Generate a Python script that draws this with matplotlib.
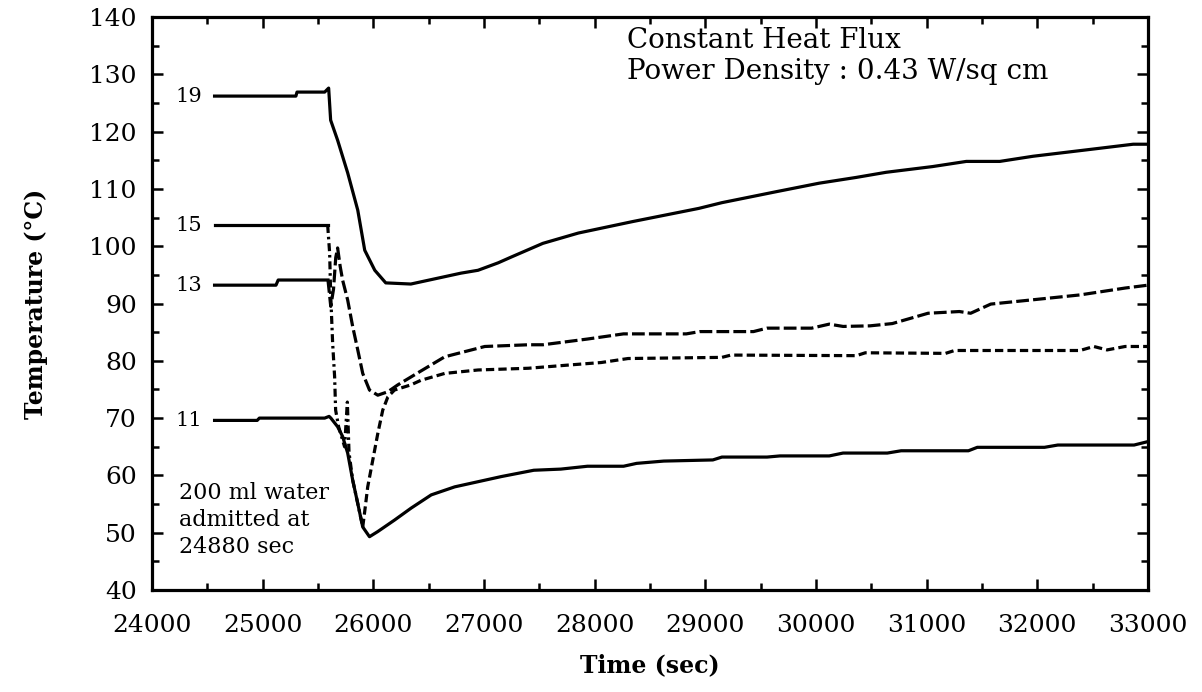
import matplotlib.pyplot as plt

plt.rcParams['font.family'] = ['DejaVu Serif']

# time break where water was admitted (curves change style after this)
t_break = 25590

# thermocouple 19 (solid)
t19 = [24565, 25300, 25310, 25560, 25596, 25614, 25677, 25768, 25859, 25922, 26013, 26112,
       26339, 26792, 26946, 27128, 27245, 27532, 27853, 28343, 28941, 29150, 29637, 30029,
       30362, 30634, 31054, 31359, 31661, 31962, 32265, 32567, 32867, 33000]
T19 = [126.2, 126.2, 126.9, 126.9, 127.6, 122.0, 118.5, 112.8, 106.3, 99.3, 95.8, 93.6,
       93.4, 95.3, 95.8, 97.1, 98.1, 100.5, 102.3, 104.3, 106.6, 107.6, 109.5, 111.0,
       112.0, 112.9, 113.9, 114.8, 114.8, 115.7, 116.4, 117.1, 117.8, 117.8]

# thermocouple 15
t15 = [24565, 25587, 25605, 25614, 25632, 25650, 25659, 25686, 25740, 25765, 25780, 25813,
       25859, 25904, 25920, 25949, 25995, 26040, 26085, 26131, 26191, 26339, 26430, 26645,
       26946, 27400, 27790, 28059, 28302, 29150, 29232, 30365, 30446, 31171, 31253, 32386,
       32511, 32631, 32794, 33000]
T15 = [103.7, 103.7, 98.8, 91.8, 83.1, 77.2, 71.4, 68.5, 65.0, 72.8, 64.0, 59.2,
       55.1, 51.0, 53.4, 58.0, 62.7, 67.3, 71.4, 73.7, 74.9, 75.8, 76.6, 77.8,
       78.4, 78.7, 79.3, 79.7, 80.4, 80.6, 81.0, 80.9, 81.4, 81.3, 81.8, 81.8,
       82.5, 81.9, 82.5, 82.5]

# thermocouple 13
t13 = [24565, 25120, 25140, 25590, 25615, 25640, 25660, 25677, 25700, 25722, 25768, 25813,
       25859, 25904, 25965, 26040, 26131, 26221, 26402, 26645, 27007, 27400, 27532, 27935,
       28261, 28828, 28950, 29435, 29558, 29961, 30120, 30245, 30487, 30690, 31013, 31296,
       31398, 31580, 31985, 32386, 32794, 33000]
T13 = [93.2, 93.2, 94.1, 94.1, 89.5, 92.5, 98.0, 99.7, 96.5, 94.1, 90.6, 86.0,
       81.9, 77.8, 74.9, 74.0, 74.6, 75.8, 77.9, 80.7, 82.5, 82.8, 82.8, 83.8,
       84.7, 84.7, 85.1, 85.1, 85.7, 85.7, 86.4, 86.0, 86.1, 86.5, 88.3, 88.6,
       88.3, 89.9, 90.7, 91.5, 92.7, 93.2]

# thermocouple 11 (solid)
t11 = [24565, 24950, 24970, 25560, 25600, 25616, 25677, 25722, 25768, 25813, 25859, 25904,
       25965, 26040, 26191, 26342, 26523, 26735, 26946, 27157, 27450, 27694, 27935, 28261,
       28379, 28624, 29068, 29150, 29558, 29675, 30120, 30245, 30645, 30770, 31378, 31458,
       32065, 32186, 32875, 33000]
T11 = [69.6, 69.6, 70.0, 70.0, 70.3, 70.0, 68.5, 66.8, 63.9, 59.2, 55.1, 51.0,
       49.3, 50.2, 52.2, 54.3, 56.6, 58.0, 58.9, 59.8, 60.9, 61.1, 61.6, 61.6,
       62.1, 62.5, 62.7, 63.2, 63.2, 63.4, 63.4, 63.9, 63.9, 64.3, 64.3, 64.9,
       64.9, 65.3, 65.3, 65.9]


def split(t, T, lo, hi):
    xs, ys = [], []
    for a, b in zip(t, T):
        if lo <= a <= hi:
            xs.append(a)
            ys.append(b)
    return xs, ys


fig = plt.figure(figsize=(12.02, 6.92), dpi=100)
ax = fig.add_axes([0.1265, 0.1474, 0.8285, 0.828])

lw = 2.3
ax.plot(t19, T19, color='black', lw=lw)
ax.plot(t11, T11, color='black', lw=lw)

x, y = split(t13, T13, 0, t_break)
ax.plot(x, y, color='black', lw=lw)
x, y = split(t13, T13, t_break, 40000)
ax.plot(x, y, color='black', lw=lw, dashes=(4, 1.3))

x, y = split(t15, T15, 0, 25587)
ax.plot(x, y, color='black', lw=lw)
x, y = split(t15, T15, 25587, 25904)
ax.plot(x, y, color='black', lw=lw, dashes=(2.5, 1.2, 0.8, 1.2))
x, y = split(t15, T15, 25904, 40000)
ax.plot(x, y, color='black', lw=lw, dashes=(2.6, 1.3))

# curve labels
for lab, yv in [('19', T19[0]), ('15', T15[0]), ('13', T13[0]), ('11', T11[0])]:
    ax.text(24450, yv, lab, ha='right', va='center', fontsize=15)

ax.text(28290, 138.3, 'Constant Heat Flux\nPower Density : 0.43 W/sq cm',
        ha='left', va='top', fontsize=20, linespacing=1.2)
ax.text(24240, 58.8, '200 ml water\nadmitted at\n24880 sec',
        ha='left', va='top', fontsize=16, linespacing=1.3)

ax.set_xlim(24000, 33000)
ax.set_ylim(40, 140)
ax.set_xticks(range(24000, 33001, 1000))
ax.set_xticks(range(24500, 33000, 1000), minor=True)
ax.set_yticks(range(40, 141, 10))
ax.set_yticks(range(45, 140, 10), minor=True)
ax.tick_params(which='both', direction='in', top=True, right=True, width=1.8)
ax.tick_params(which='major', length=8, labelsize=18)
ax.tick_params(which='minor', length=5)
ax.tick_params(axis='x', which='major', pad=17)
ax.tick_params(axis='y', which='major', pad=11)
for s in ax.spines.values():
    s.set_linewidth(2.3)

ax.set_xlabel('Time (sec)', fontsize=17, fontweight='bold', labelpad=12)
ax.set_ylabel('Temperature (°C)', fontsize=17, fontweight='bold', labelpad=30)

fig.savefig('out.png', dpi=100)
